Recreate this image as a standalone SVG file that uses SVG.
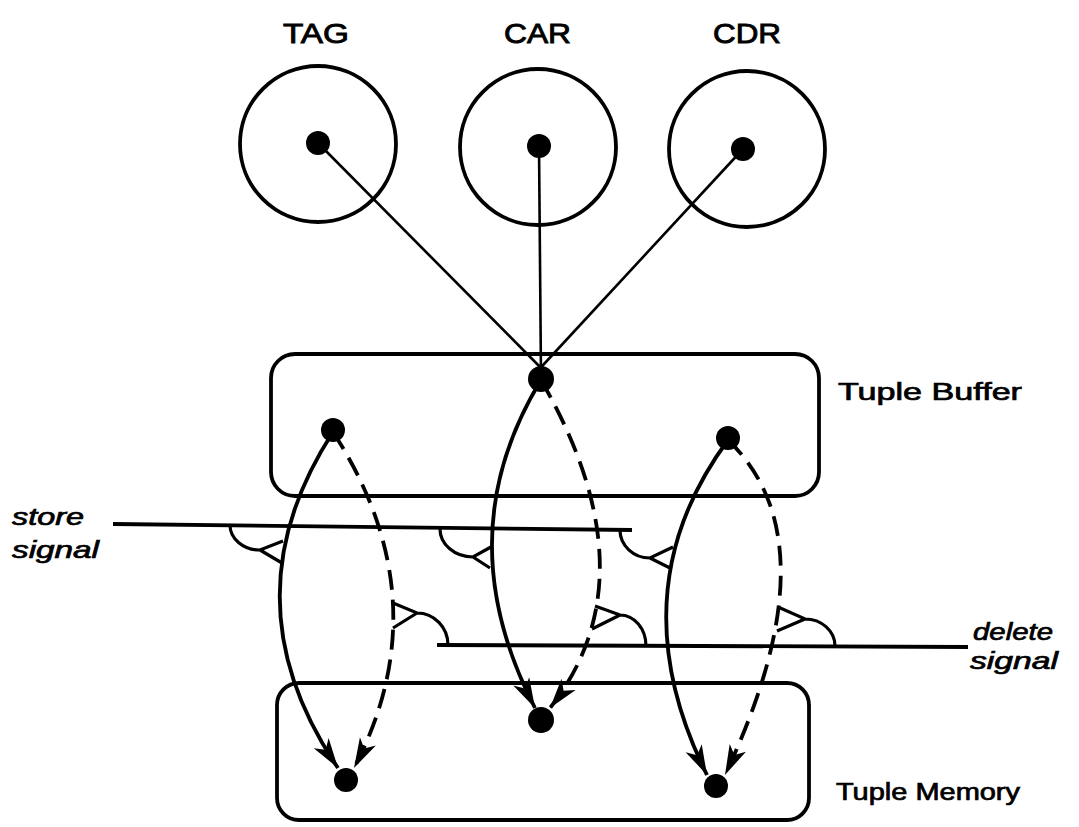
<svg xmlns="http://www.w3.org/2000/svg" width="1079" height="827" viewBox="0 0 1079 827">
<style>
.ln{fill:none;stroke:#000;stroke-width:3.8}
.thin{fill:none;stroke:#000;stroke-width:2.6}
.dash{fill:none;stroke:#000;stroke-width:3.8;stroke-dasharray:20 10}
.dot{fill:#000}
.syn{fill:none;stroke:#000;stroke-width:3.2;stroke-linejoin:miter}
.lbl{font-family:"Liberation Sans",Arial,Helvetica,sans-serif;font-size:28px;fill:#000;stroke:#000;stroke-width:0.9}
.side{font-family:"Liberation Sans",Arial,Helvetica,sans-serif;font-size:23px;fill:#000;stroke:#000;stroke-width:0.7}
.sig{font-family:"Liberation Sans",Arial,Helvetica,sans-serif;font-size:23px;font-style:italic;fill:#000;stroke:#000;stroke-width:0.7}
</style>
<defs>
<marker id="ah" viewBox="-30 -10 32 20" refX="0" refY="0" markerWidth="32" markerHeight="20" markerUnits="userSpaceOnUse" orient="auto">
<path d="M0,0 L-30,-9 L-22,0 L-30,9 Z" fill="#000"/>
</marker>
</defs>

<g id="label-TAG"><text class="lbl" x="283" y="43" textLength="66" lengthAdjust="spacingAndGlyphs">TAG</text></g>
<g id="label-CAR"><text class="lbl" x="504" y="43" textLength="67" lengthAdjust="spacingAndGlyphs">CAR</text></g>
<g id="label-CDR"><text class="lbl" x="713" y="43" textLength="68" lengthAdjust="spacingAndGlyphs">CDR</text></g>

<g id="node-TAG">
<circle class="ln" cx="318" cy="144" r="78"/>
<circle class="dot" cx="318" cy="143" r="12"/>
</g>
<g id="node-CAR">
<circle class="ln" cx="538" cy="147" r="78"/>
<circle class="dot" cx="539" cy="146" r="12"/>
</g>
<g id="node-CDR">
<circle class="ln" cx="747" cy="149" r="78"/>
<circle class="dot" cx="743" cy="149" r="12"/>
</g>

<g id="tuple-buffer">
<rect class="ln" x="271" y="354" width="548" height="142" rx="24"/>
<circle class="dot" cx="333" cy="430" r="12"/>
<circle class="dot" cx="541" cy="379" r="13"/>
<circle class="dot" cx="728" cy="438" r="12"/>
<text class="side" x="838" y="400" textLength="184" lengthAdjust="spacingAndGlyphs">Tuple Buffer</text>
</g>

<g id="tuple-memory">
<rect class="ln" x="277" y="683" width="532" height="137" rx="22"/>
<circle class="dot" cx="346" cy="780" r="12"/>
<circle class="dot" cx="541" cy="720" r="13"/>
<circle class="dot" cx="716" cy="786" r="12"/>
<text class="side" x="836" y="800" textLength="184" lengthAdjust="spacingAndGlyphs">Tuple Memory</text>
</g>

<g id="signals">
<text class="sig" x="12" y="525" textLength="72" lengthAdjust="spacingAndGlyphs">store</text>
<text class="sig" x="12" y="558" textLength="87" lengthAdjust="spacingAndGlyphs">signal</text>
<text class="sig" x="973" y="640" textLength="80" lengthAdjust="spacingAndGlyphs">delete</text>
<text class="sig" x="970" y="669" textLength="88" lengthAdjust="spacingAndGlyphs">signal</text>
</g>

<g id="connectors">
<line class="thin" x1="318" y1="143" x2="550" y2="377"/>
<line class="thin" x1="539" y1="146" x2="541" y2="377"/>
<line class="thin" x1="743" y1="149" x2="532" y2="377"/>

<line class="ln" x1="113" y1="524" x2="632" y2="530"/>
<line class="ln" x1="437" y1="645" x2="968" y2="647"/>

<path class="ln" d="M333,432 Q224,600 338,768" marker-end="url(#ah)"/>
<path class="dash" d="M333,432 Q442,600 354,768" marker-end="url(#ah)"/>
<path class="ln" d="M541,380 Q446,536 535,708" marker-end="url(#ah)"/>
<path class="dash" d="M541,380 Q654,576 550,708" marker-end="url(#ah)"/>
<path class="ln" d="M728,440 Q616,592 707,775" marker-end="url(#ah)"/>
<path class="dash" d="M728,440 Q835,542 725,775" marker-end="url(#ah)"/>

<path class="syn" d="M230,525 A30 25 0 0 0 260,550 L283,541 M260,550 L282,563"/>
<path class="syn" d="M440,529 A33 28 0 0 0 473,557 L491,547 M473,557 L490,568"/>
<path class="syn" d="M620,530 A30 28 0 0 0 650,558 L673,547 M650,558 L670,568"/>

<path class="syn" d="M448,645 A31 32 0 0 0 417,613 L393,603 M417,613 L393,628"/>
<path class="syn" d="M646,646 A26 31 0 0 0 620,615 L595,606 M620,615 L592,629"/>
<path class="syn" d="M835,646 A30 27 0 0 0 805,619 L778,607 M805,619 L777,631"/>
</g>
</svg>
